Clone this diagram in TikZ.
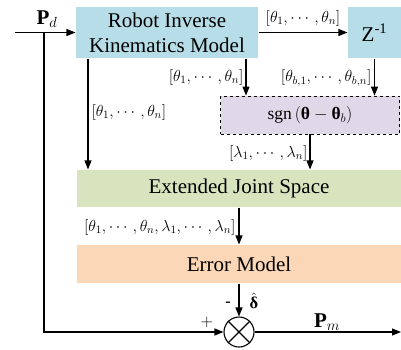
\RequirePackage{fix-cm}
\documentclass[tikz,border=0pt]{standalone}
\usepackage{xcolor}
\usepackage{amsmath}
\usepackage{amssymb}
\usepackage{fontspec}
\setmainfont{Liberation Serif}
\usepackage{tikz}
\usetikzlibrary{calc}
\usetikzlibrary{shapes.geometric, arrows.meta}
\usetikzlibrary{positioning}

\definecolor{ikblue}{RGB}{183,222,232}
\definecolor{sgnpurple}{RGB}{222,216,232}
\definecolor{extgreen}{RGB}{215,228,189}
\definecolor{errpeach}{RGB}{251,214,183}

\begin{document}
\begin{tikzpicture}[x=1pt, y=-1pt, line width=1.1pt,
      >={Triangle[length=9pt,width=7pt]},
      block/.style = {shape=rectangle, inner sep=0pt, align=center,
        font=\fontsize{21}{25}\selectfont},
      lbl/.style = {inner sep=0pt, font=\fontsize{16}{19}\selectfont}]
      \useasboundingbox (0,0) rectangle (401,349);
      \node[block, fill=ikblue, minimum width=182pt, minimum height=51pt] (ik) at (167,32.5) {Robot Inverse\\Kinematics Model};
      \node[block, fill=ikblue, minimum width=53pt, minimum height=51pt] (zinv) at (374.5,32.5) {Z\textsuperscript{-1}};
      \node[block, fill=sgnpurple, draw, dashed, line width=0.8pt,
        minimum width=179pt, minimum height=38pt,
        font=\fontsize{17.5}{21}\selectfont] (sgn) at (310,115) {$\operatorname{sgn}\,(\text{\textbf{θ}}-\text{\textbf{θ}}_b)$};
      \node[block, fill=extgreen, minimum width=324pt, minimum height=37pt] (ext) at (239,188.5) {Extended Joint Space};
      \node[block, fill=errpeach, minimum width=324pt, minimum height=38pt] (err) at (239,264) {Error Model};
      \node[circle, draw, minimum size=30pt, inner sep=0pt] (sum) at (239,332) {};
      \draw (sum.north east) -- (sum.south west) (sum.north west) -- (sum.south east);
      \coordinate (in) at (15,32.5);
      \coordinate (tap) at (44,32.5);
      \coordinate (out) at (401,332);
      % connectors
      \draw[->] (in) -- (ik.west);
      \draw[->] (tap) |- (sum.west);
      \draw[->] (ik.east) -- (zinv.west);
      \draw[->] (ik.south -| 88,0) -- (ext.north -| 88,0);
      \draw[->] (ik.south -| 246,0) -- (sgn.north -| 246,0);
      \draw[->] (zinv.south) -- (sgn.north -| zinv.south);
      \draw[->] (sgn.south) -- (ext.north -| sgn.south);
      \draw[->] (ext.south) -- (err.north);
      \draw[->] (err.south) -- (sum.north);
      \draw[->] (sum.east) -- (out);
      % labels
      \node[lbl, font=\fontsize{21}{25}\selectfont] (pd) at (47,19) {$\mathbf{P}_d$};
      \node[lbl] (l1) at (303,18) {$[\theta_1,\cdots,\theta_n]$};
      \node[lbl, anchor=east] (l2) at (244,77) {$[\theta_1,\cdots,\theta_n]$};
      \node[lbl, anchor=west] (l3) at (91,112) {$[\theta_1,\cdots,\theta_n]$};
      \node[lbl, anchor=east] (l4) at (372,78) {$[\theta_{b,1},\cdots,\theta_{b,n}]$};
      \node[lbl, anchor=east] (l5) at (308,153) {$[\lambda_1,\cdots,\lambda_n]$};
      \node[lbl, anchor=east] (l6) at (236,227) {$[\theta_1,\cdots,\theta_n,\lambda_1,\cdots,\lambda_n]$};
      \node[lbl] (minus) at (228,304) {\textbf{-}};
      \node[lbl, font=\fontsize{16.5}{20}\selectfont] (dhat) at (254,301) {$\hat{\text{\textbf{δ}}}$};
      \node[lbl, font=\fontsize{16.5}{20}\selectfont] (plus) at (207,322) {$+$};
      \node[lbl, font=\fontsize{21}{25}\selectfont] (pm) at (327,322) {$\mathbf{P}_m$};
    \end{tikzpicture}
\end{document}
